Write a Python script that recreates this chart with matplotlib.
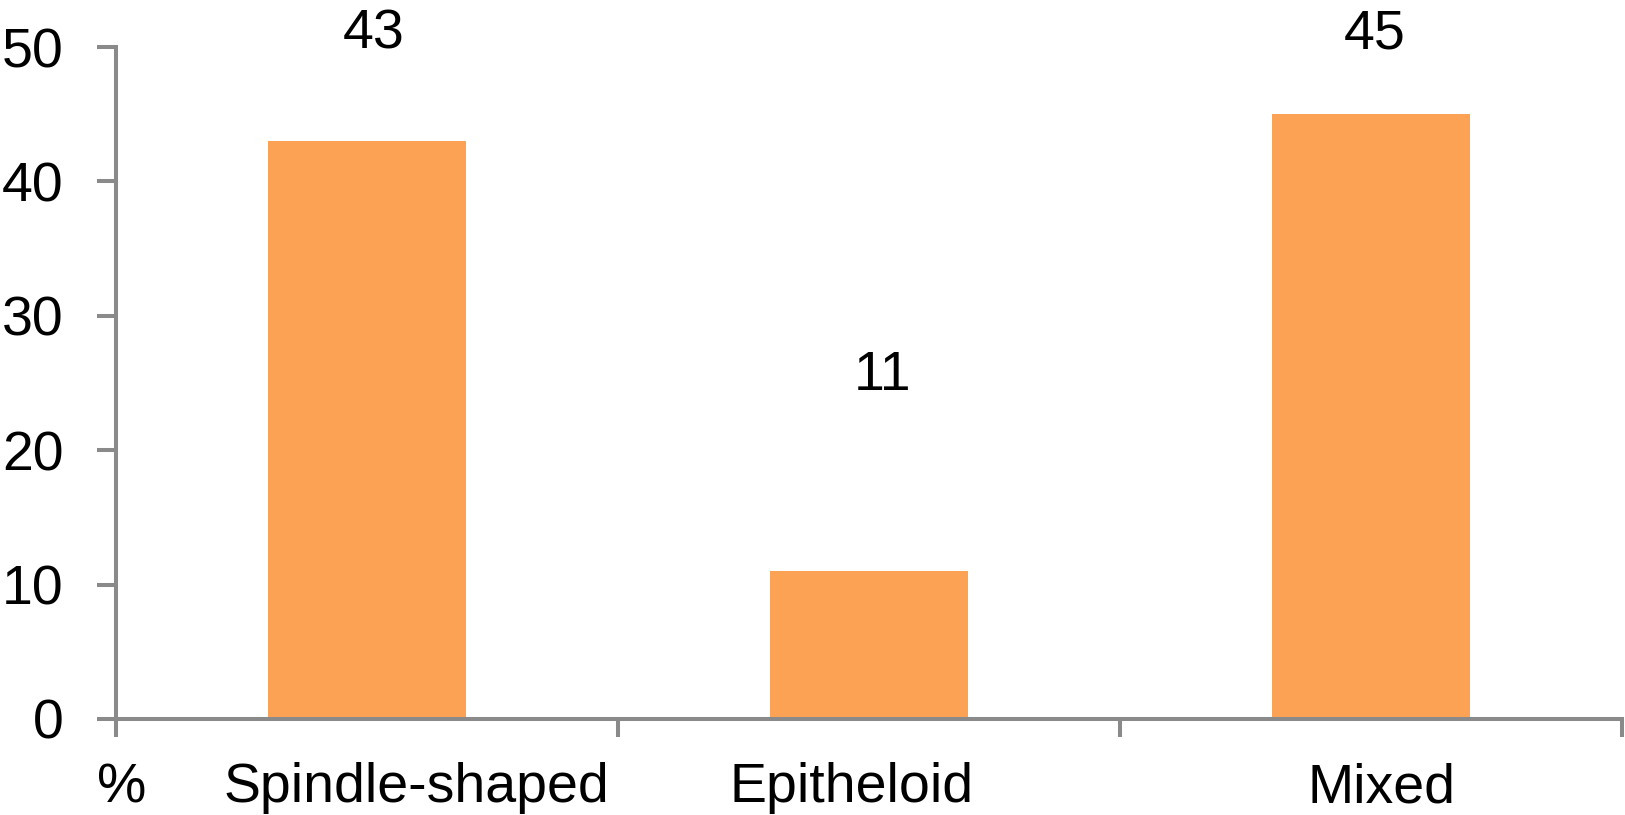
import matplotlib
matplotlib.use('Agg')
import matplotlib.pyplot as plt

# Data
categories = ['Spindle-shaped', 'Epitheloid', 'Mixed']
percent = [43, 11, 45]
value_labels = ['43', '11', '45']
# where the value labels sit (x offset from category centre, y baseline in data units)
label_dx = [0.014, 0.028, 0.008]
label_y = [49.9, 24.5, 49.9]
# category labels are shifted slightly from the category centres
cat_dx = [0.098, -0.034, 0.022]
y_ticks = [0, 10, 20, 30, 40, 50]

plt.rcParams['font.family'] = ['Liberation Sans', 'DejaVu Sans']

BAR_COLOR = '#FBA254'
AXIS_COLOR = '#8A8A8A'
FS = 40
LW = 2.9

fig = plt.figure(figsize=(16.25, 8.15), dpi=100)
ax = fig.add_axes([0.0714, 0.1178, 0.9266, 0.8245])

x = list(range(len(categories)))
ax.bar(x, percent, width=0.395, color=BAR_COLOR, zorder=1)

ax.set_xlim(-0.5, len(categories) - 0.5)
ax.set_ylim(0, 50)

# spines
for side in ['top', 'right']:
    ax.spines[side].set_visible(False)
for side in ['left', 'bottom']:
    ax.spines[side].set_color(AXIS_COLOR)
    ax.spines[side].set_linewidth(LW)
    ax.spines[side].set_zorder(3)

# y axis ticks
ax.set_yticks(y_ticks)
ax.tick_params(axis='y', direction='out', length=13.7, width=LW,
               color=AXIS_COLOR, pad=24, labelsize=FS, labelcolor='black')

# x axis: ticks between categories, no tick labels
ax.set_xticks([i - 0.5 for i in range(len(categories) + 1)])
ax.set_xticklabels([])
ax.tick_params(axis='x', direction='out', length=13, width=LW, color=AXIS_COLOR)

# category labels
for i, (cat, dx) in enumerate(zip(categories, cat_dx)):
    ax.text(i + dx, -6.18, cat, ha='center', va='baseline',
            fontsize=FS, clip_on=False)
ax.text(-0.488, -6.18, '%', ha='center', va='baseline', fontsize=FS, clip_on=False)

# value labels
for i, (lab, dx, ly) in enumerate(zip(value_labels, label_dx, label_y)):
    ax.text(i + dx, ly, lab, ha='center', va='baseline', fontsize=FS, clip_on=False)

fig.savefig('out.png', dpi=100)
